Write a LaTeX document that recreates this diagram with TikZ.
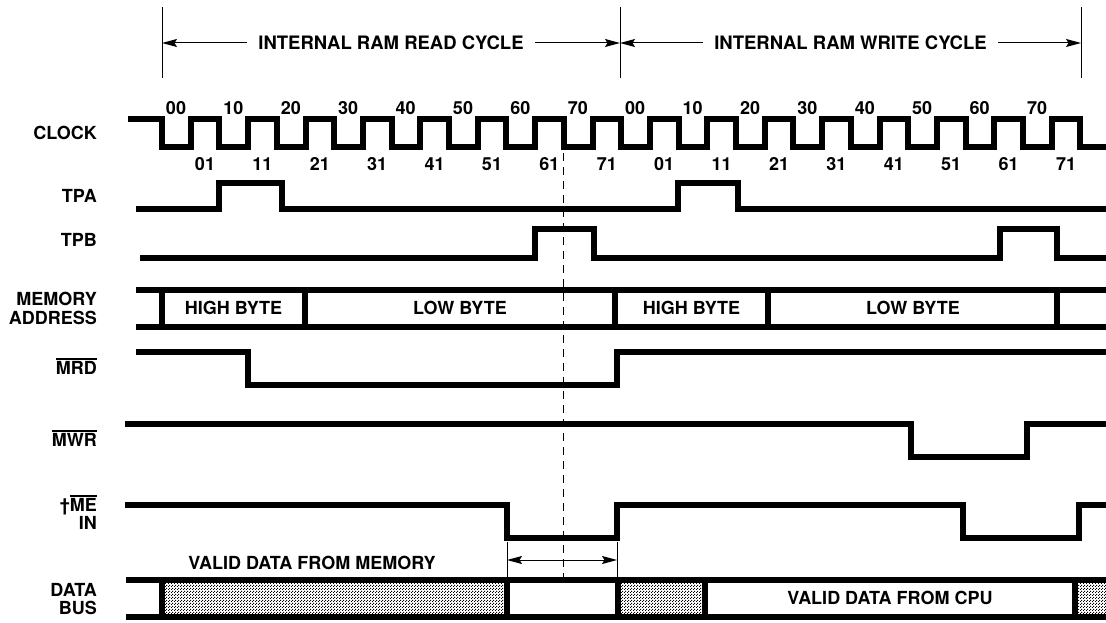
\documentclass[tikz,border=0pt]{standalone}
\usepackage{fontspec}
\setmainfont{TeX Gyre Heros}
\usetikzlibrary{arrows.meta,patterns.meta}
\newcommand\lblfont{\fontsize{18}{20}\selectfont\bfseries}
\newcommand\ttlfont{\fontsize{18.5}{21}\selectfont\bfseries}
\newcommand\myovl[1]{\vbox{\hrule height 1.6pt\kern1.4pt\hbox{#1}}}
\tikzdeclarepattern{
  name=stipple,
  type=uncolored,
  bottom left={(0pt,0pt)},
  top right={(3pt,3pt)},
  tile size={(3pt,3pt)},
  code={
    \pgfpathrectangle{\pgfpoint{0pt}{0pt}}{\pgfpoint{1.2pt}{1.2pt}}
    \pgfpathrectangle{\pgfpoint{1.5pt}{1.5pt}}{\pgfpoint{1.2pt}{1.2pt}}
    \pgfusepath{fill}
  }
}
\begin{document}
\begin{tikzpicture}[x=1pt,y=-1pt,
  sig/.style={line width=6pt, line join=miter, line cap=butt},
  thinl/.style={line width=1pt},
  tip/.style={-{Stealth[length=15pt,width=8pt,inset=2.5pt]}},
  dtip/.style={{Stealth[length=15pt,width=8pt,inset=2.5pt]}-{Stealth[length=15pt,width=8pt,inset=2.5pt]}},
  lbl/.style={anchor=base east, inner sep=0pt, font=\lblfont},
  txt/.style={anchor=base, inner sep=0pt, font=\lblfont},
  ttl/.style={anchor=center, inner xsep=11pt, inner ysep=0pt, font=\ttlfont},
  stip/.style={pattern=stipple, pattern color=black}]
\useasboundingbox (0,0) rectangle (1106,623);

% ---- cycle annotations
\draw[thinl] (162,7) -- (162,78);
\draw[thinl] (620,7) -- (620,78);
\draw[thinl] (1081,7) -- (1081,78);
\node[ttl] (rd) at (391,43) {INTERNAL RAM READ CYCLE};
\node[ttl] (wr) at (850.5,43) {INTERNAL RAM WRITE CYCLE};
\coordinate (r0) at (162,43);
\coordinate (r1) at (620,43);
\coordinate (w1) at (1081,43);
\draw[thinl,tip] (rd.west) -- (r0);
\draw[thinl,tip] (rd.east) -- (r1);
\draw[thinl,tip] (wr.west) -- (r1);
\draw[thinl,tip] (wr.east) -- (w1);

% ---- labels
\node[lbl] (lclk) at (97,139.5) {CLOCK};
\node[lbl] (ltpa) at (97,202.5) {TPA};
\node[lbl] (ltpb) at (97,246.5) {TPB};
\node[lbl] (lmem1) at (97,305.5) {MEMORY};
\node[lbl] (lmem2) at (97,324.5) {ADDRESS};
\node[lbl] (lmrd) at (97,374.5) {\myovl{MRD}};
\node[lbl] (lmwr) at (97,446.5) {\myovl{MWR}};
\node[lbl] (lme1) at (97,511.5) {†\myovl{ME}};
\node[lbl] (lme2) at (97,529.5) {IN};
\node[lbl] (ldb1) at (97,596.5) {DATA};
\node[lbl] (ldb2) at (97,614.5) {BUS};

% ---- clock
\draw[sig] (128,119.5)
  \foreach \k in {0,...,15}{ -- ({162+57.4*\k},119.5) -- ({162+57.4*\k},147)
     -- ({190.7+57.4*\k},147) -- ({190.7+57.4*\k},119.5) }
  -- (1080.4,119.5) -- (1080.4,147) -- (1106,147);
\foreach \k [evaluate=\k as \cyc using {int(mod(\k,8))}] in {0,...,15}{
  \node[txt] (ct\k) at ({176+57.4*\k},115) {\cyc0};
  \node[txt] (cb\k) at ({205+57.4*\k},171) {\cyc1};
}

% ---- TPA / TPB
\draw[sig] (136,209) -- (219.4,209) -- (219.4,183) -- (282,183) -- (282,209)
  -- (678,209) -- (678,183) -- (738,183) -- (738,209) -- (1106,209);
\draw[sig] (140,258) -- (535,258) -- (535,229) -- (594,229) -- (594,258)
  -- (1000,258) -- (1000,229) -- (1057,229) -- (1057,258) -- (1106,258);

% ---- memory address bus
\draw[sig] (136,290) -- (1106,290);
\draw[sig] (136,327) -- (1106,327);
\foreach \x in {162,305,615,768,1057}{ \draw[sig] (\x,290) -- (\x,327); }
\node[txt] (hb1) at (233.5,314.5) {HIGH BYTE};
\node[txt] (lb1) at (460,314.5) {LOW BYTE};
\node[txt] (hb2) at (691.5,314.5) {HIGH BYTE};
\node[txt] (lb2) at (913,314.5) {LOW BYTE};

% ---- MRD, MWR, ME
\draw[sig] (136,352) -- (248,352) -- (248,385) -- (617,385) -- (617,352) -- (1106,352);
\draw[sig] (125,424) -- (911,424) -- (911,457) -- (1027,457) -- (1027,424) -- (1106,424);
\draw[sig] (125,505) -- (507,505) -- (507,538) -- (617,538) -- (617,505)
  -- (963,505) -- (963,538) -- (1079,538) -- (1079,505) -- (1106,505);

% ---- data bus
\fill[stip] (162,583) rectangle (507,614);
\fill[stip] (618,583) rectangle (705,614);
\fill[stip] (1075,583) rectangle (1106,614);
\draw[sig] (126,580) -- (1106,580);
\draw[sig] (126,617) -- (1106,617);
\foreach \x in {162,507,618,705,1075}{ \draw[sig] (\x,580) -- (\x,617); }
\node[txt] (vdm) at (312,569.5) {VALID DATA FROM MEMORY};
\node[txt] (vdc) at (890,604.5) {VALID DATA FROM CPU};

% ---- access window arrow
\coordinate (al) at (507,560);
\coordinate (ar) at (617,560);
\draw[thinl] (507,542) -- (507,577);
\draw[thinl] (617,542) -- (617,577);
\draw[thinl,dtip] (al) -- (ar);

% ---- dashed reference line
\draw[thinl, dash pattern=on 8pt off 6pt] (563.5,153) -- (563.5,577);
\end{tikzpicture}
\end{document}
